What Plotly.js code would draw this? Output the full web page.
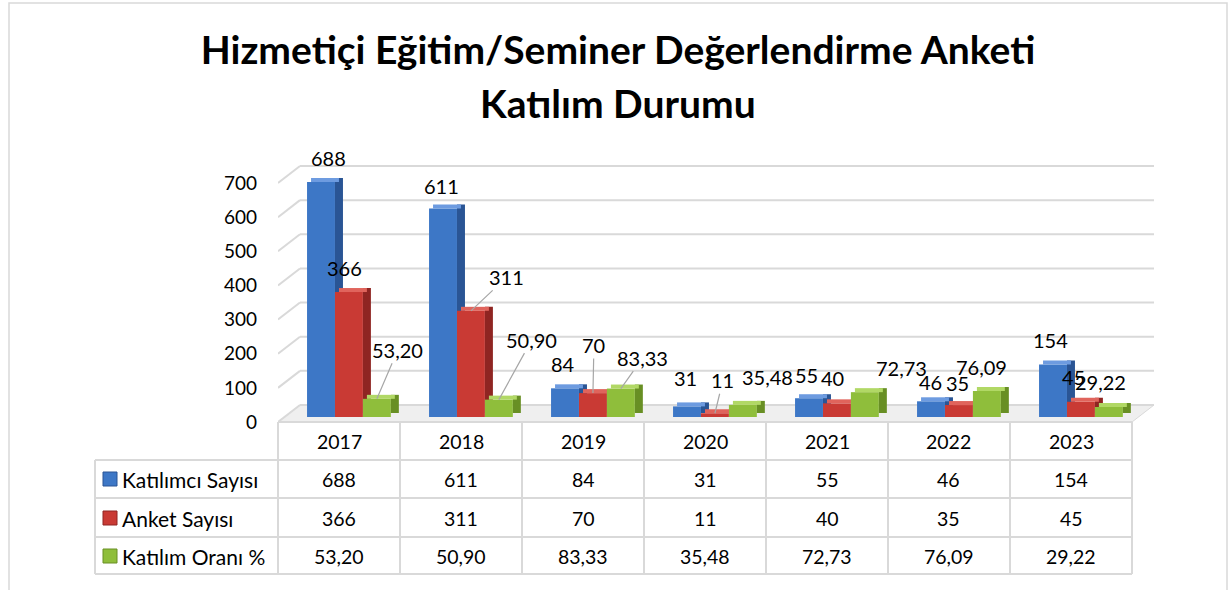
<!DOCTYPE html>
<html><head><meta charset="utf-8">
<script src="https://cdn.plot.ly/plotly-3.0.1.min.js"></script>
<style>html,body{margin:0;padding:0;background:#fff}#chart{width:1230px;height:590px}</style>
</head><body><div id="chart"></div>
<script>
// ---- data ----
const years = ['2017','2018','2019','2020','2021','2022','2023'];
const seriesNames = ['Katılımcı Sayısı','Anket Sayısı','Katılım Oranı %'];
const katilimciSayisi = [688,611,84,31,55,46,154];
const anketSayisi = [366,311,70,11,40,35,45];
const katilimOrani = [53.20,50.90,83.33,35.48,72.73,76.09,29.22];
const yTickVals = [0,100,200,300,400,500,600,700];
const titleLine1 = 'Hizmetiçi Eğitim/Seminer Değerlendirme Anketi';
const titleLine2 = 'Katılım Durumu';

// ---- label layout (pixel offsets from bar top) ----
const labelDX = [[7,-2,-2,-2,-3,-1,-3],[-4,36,1,8,-4,-1,-7],[21,33,22,25,37,-5,-8]];
const labelDY = [[-24,-22,-24,-28,-23,-19,-24],[-24,-34,-48,-33,-25,-22,-25],[-49,-60,-31,-28,-24,-24,-25]];
const leader  = [[0,0,0,0,0,0,0],[0,1,1,1,0,0,0],[1,1,1,0,0,0,0]];

// ---- geometry / style ----
const W = 1230, H = 590;
const FONT = 'Lato, "Open Sans", sans-serif';
const X0 = 278, UX = 122;            // px of first column edge, px per category
const Y0 = 422, PXU = 239/700;       // px of value 0 (front), px per unit
const xRange = [-0.5, 6.7], yRange = [0, 760];
const B = 5/PXU;                     // bar base lift
const DX = 22/UX, DY = 17/PXU;       // wall depth
const SDX = 8/UX, SDY = 4/PXU;       // bar depth
const offs = [-0.262, -0.033, 0.196], bw = 0.229;
const colFront = ['#3d77c6','#c93a34','#8fbe3b'];
const colSide  = ['#2a5595','#8f2522','#688f24'];
const colTop   = ['#6d9be0','#e0645c','#b1d865'];
const grid = '#d9d9d9';
const px = p => p/W, py = p => 1 - p/H;

const values = [katilimciSayisi, anketSayisi, katilimOrani];
const fmt = (s, v) => s === 2 ? v.toFixed(2).replace('.', ',') : String(v);
const idx = years.map((_, i) => i);

const traces = [];
values.forEach((vals, s) => {
  traces.push({type:'bar', name: seriesNames[s], x: idx, y: vals, base: B,
    offset: offs[s], width: bw, marker:{color: colFront[s], line:{width:0}}, hoverinfo:'skip', showlegend:false});
  traces.push({type:'bar', x: idx, y: vals, base: B + SDY,
    offset: offs[s] + bw, width: SDX, marker:{color: colSide[s], line:{width:0}}, hoverinfo:'skip', showlegend:false});
  traces.push({type:'bar', x: idx, y: vals.map(() => SDY), base: vals.map(v => B + v),
    offset: offs[s] + SDX*0.5, width: bw, marker:{color: colTop[s], line:{width:0}}, hoverinfo:'skip', showlegend:false});
});

const shapes = [];
// outer chart border
shapes.push({type:'rect', xref:'paper', yref:'paper', x0: px(9), x1: px(1227), y0: -0.05, y1: py(3), line:{color: grid, width:1.5}, layer:'below'});
// floor
shapes.push({type:'path', xref:'x', yref:'y', layer:'below',
  path:`M ${-0.5},0 L 6.5,0 L ${6.5+DX},${DY} L ${-0.5+DX},${DY} Z`, fillcolor:'#efefef', line:{color: grid, width:1}});
// back wall gridlines + left diagonals
yTickVals.forEach(v => {
  shapes.push({type:'line', xref:'x', yref:'y', layer:'below', x0: -0.5+DX, x1: 6.5+DX, y0: v+DY, y1: v+DY, line:{color: grid, width:2}});
  shapes.push({type:'line', xref:'x', yref:'y', layer:'below', x0: -0.5, x1: -0.5+DX, y0: v, y1: v+DY, line:{color: grid, width:2}});
});
// data table lines
const rowY = [422, 460, 498, 537, 574];
for (let k = 0; k <= years.length; k++) {
  shapes.push({type:'line', xref:'paper', yref:'paper', x0: px(X0+UX*k), x1: px(X0+UX*k), y0: py(422), y1: py(574), line:{color: grid, width:2}});
}
shapes.push({type:'line', xref:'paper', yref:'paper', x0: px(95), x1: px(95), y0: py(460), y1: py(574), line:{color: grid, width:2}});
rowY.slice(1).forEach(y => shapes.push({type:'line', xref:'paper', yref:'paper', x0: px(95), x1: px(X0+UX*7), y0: py(y), y1: py(y), line:{color: grid, width:2}}));
shapes.push({type:'line', xref:'paper', yref:'paper', x0: px(X0), x1: px(X0+UX*7), y0: py(422), y1: py(422), line:{color: grid, width:2}});
// legend keys
const rowCenters = [479, 518, 556];
rowCenters.forEach((c, s) => shapes.push({type:'rect', xref:'paper', yref:'paper', x0: px(103), x1: px(117), y0: py(c+7), y1: py(c-7),
  fillcolor: colFront[s], line:{color: colSide[s], width:1}}));

const annotations = [];
// data labels
values.forEach((vals, s) => vals.forEach((v, i) => {
  const a = {xref:'x', yref:'y', x: i + offs[s] + bw/2, y: B + v, text: fmt(s, v),
    xanchor:'center', yanchor:'middle', font:{family: FONT, size: 20, color:'#000'}};
  if (leader[s][i]) {
    Object.assign(a, {showarrow:true, ax: labelDX[s][i], ay: labelDY[s][i], arrowhead:0, arrowwidth:1.2, arrowcolor:'#a6a6a6', standoff:0});
  } else {
    Object.assign(a, {showarrow:false, xshift: labelDX[s][i], yshift: -labelDY[s][i]});
  }
  annotations.push(a);
}));
const tblFont = {family: FONT, size: 19.5, color:'#000'};
// table header
years.forEach((y, i) => annotations.push({xref:'paper', yref:'paper', x: px(X0+UX*(i+0.5)), y: py(441), text: y, showarrow:false,
  xanchor:'center', yanchor:'middle', font: tblFont}));
// table rows
values.forEach((vals, s) => {
  annotations.push({xref:'paper', yref:'paper', x: px(120), xanchor:'left', yanchor:'middle', y: py(rowCenters[s]), text: seriesNames[s], showarrow:false,
    font:{family: FONT, size: 21, color:'#000'}});
  vals.forEach((v, i) => annotations.push({xref:'paper', yref:'paper', x: px(X0+UX*(i+0.5)), y: py(rowCenters[s]), text: fmt(s, v), showarrow:false,
    xanchor:'center', yanchor:'middle', font: tblFont}));
});
// title line 2
annotations.push({xref:'paper', yref:'paper', x: px(618), y: py(103), text: titleLine2, showarrow:false,
  xanchor:'center', yanchor:'middle', font:{family: FONT, size: 39, weight: 'bold', color:'#000'}});

const layout = {
  width: W, height: H, margin:{l:0, r:0, t:0, b:0},
  paper_bgcolor:'#fff', plot_bgcolor:'rgba(0,0,0,0)',
  title:{text: titleLine1, xref:'paper', yref:'paper', x: px(618), xanchor:'center', y: py(50), yanchor:'middle',
    font:{family: FONT, size: 39, weight: 'bold', color:'#000'}},
  barmode:'overlay', showlegend:false,
  xaxis:{range: xRange, domain:[px(X0), px(X0 + UX*(xRange[1]-xRange[0]))], showgrid:false, zeroline:false, showline:false, showticklabels:false, ticks:''},
  yaxis:{range: yRange, domain:[py(Y0), py(Y0 - PXU*(yRange[1]-yRange[0]))], tickvals: yTickVals, showgrid:false, zeroline:false, showline:false, ticks:'',
    ticklabelstandoff: 20, tickfont:{family: FONT, size: 19, color:'#000'}},
  shapes, annotations
};
Plotly.newPlot('chart', traces, layout, {staticPlot:true, displayModeBar:false});
</script></body></html>
